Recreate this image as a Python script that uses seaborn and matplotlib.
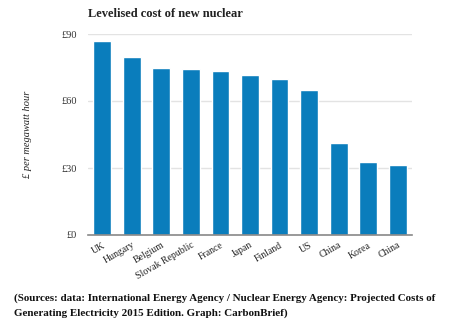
import matplotlib
matplotlib.use("Agg")
import matplotlib.pyplot as plt
import seaborn as sns
import pandas as pd

countries = ["UK", "Hungary", "Belgium", "Slovak Republic", "France", "Japan",
             "Finland", "US", "China", "Korea", "China"]
cost_gbp_mwh = [87, 79.7, 74.6, 74.3, 73.4, 71.8, 69.7, 64.9, 41.2, 32.8, 31.2]
y_ticks = [0, 30, 60, 90]
y_tick_labels = ["£0", "£30", "£60", "£90"]

df = pd.DataFrame({
    "slot": [str(i) for i in range(len(countries))],
    "country": countries,
    "cost": cost_gbp_mwh,
})

sns.set_theme(style="white")
plt.rcParams["font.family"] = ["Liberation Serif", "DejaVu Serif"]

fig = plt.figure(figsize=(4.73, 3.26), dpi=100)
ax = fig.add_axes([88 / 473, 1 - 235 / 326, (412 - 88) / 473, (235 - 34) / 326])

bar_color = "#0a7dbc"
sns.barplot(data=df, x="slot", y="cost", color=bar_color, width=0.6,
            saturation=1, ax=ax, zorder=3)

ax.set_ylim(0, 90)
ax.set_xlim(-0.48, len(countries) - 0.52)
ax.set_yticks(y_ticks)
ax.set_yticklabels(y_tick_labels, fontsize=7.5, color="#333333")
ax.set_xticks(range(len(countries)))
ax.set_xticklabels(countries, rotation=30, ha="right", rotation_mode="anchor",
                   fontsize=7, color="#222222")
ax.tick_params(axis="both", length=0, pad=8)
ax.tick_params(axis="x", pad=4)

for y in y_ticks[1:]:
    ax.axhline(y, color="#e3e3e3", linewidth=1, zorder=1)

for side in ["top", "right", "left"]:
    ax.spines[side].set_visible(False)
ax.spines["bottom"].set_color("#888888")
ax.spines["bottom"].set_linewidth(1.2)
ax.spines["bottom"].set_zorder(4)

ax.set_xlabel("")
ax.set_ylabel("£ per megawatt hour", fontsize=7.5, style="italic",
              color="#222222", labelpad=21)

fig.text(88 / 473, 1 - 14 / 326, "Levelised cost of new nuclear",
         fontsize=9, fontweight="bold", color="#222222", va="center", ha="left")

fig.text(14 / 473, 1 - 298 / 326,
         "(Sources: data: International Energy Agency / Nuclear Energy Agency: Projected Costs of",
         fontsize=7.9, fontweight="bold", color="#111111", va="center", ha="left")
fig.text(14 / 473, 1 - 313 / 326,
         "Generating Electricity 2015 Edition. Graph: CarbonBrief)",
         fontsize=7.9, fontweight="bold", color="#111111", va="center", ha="left")

fig.savefig("out.png", dpi=100, facecolor="white")
